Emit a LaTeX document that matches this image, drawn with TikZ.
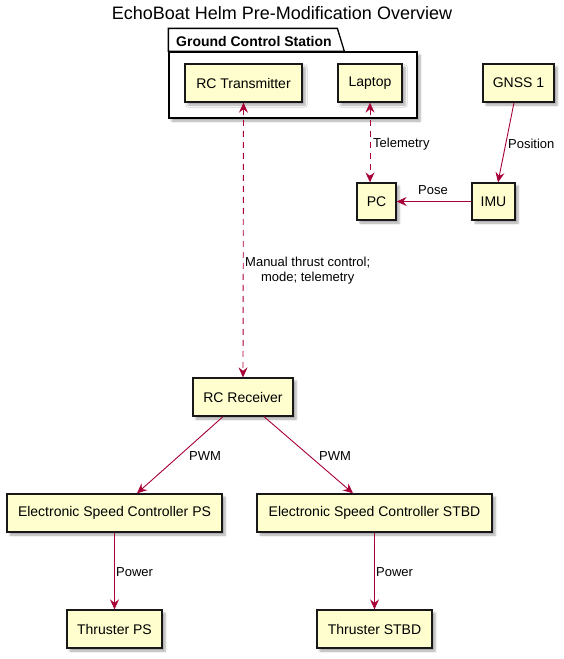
\documentclass[tikz,border=0pt]{standalone}
\usepackage{fontspec}
\setmainfont{Liberation Sans}
\usepackage{tikz}
\usetikzlibrary{arrows.meta,calc,shadows.blur}
\definecolor{umlfill}{HTML}{FEFECE}
\definecolor{umlred}{HTML}{A80036}
\definecolor{umlframe}{HTML}{181818}

\begin{document}
\begin{tikzpicture}[
    x=1pt, y=-1pt,
    comp/.style={draw=umlframe, line width=1.3pt, fill=umlfill, rectangle, minimum height=38pt, inner sep=0pt, font=\fontsize{14}{16}\selectfont,
        blur shadow={shadow xshift=3pt, shadow yshift=-3pt, shadow blur steps=4, shadow opacity=35}},
    pkg/.style={draw=black, line width=1.3pt, fill=white, rectangle, inner sep=0pt,
        blur shadow={shadow xshift=3pt, shadow yshift=-3pt, shadow blur steps=4, shadow opacity=35}},
    arrow/.style={-{Stealth[length=10pt, width=9pt, inset=3.5pt]}, umlred, line width=0.9pt},
    both/.style={{Stealth[length=10pt, width=9pt, inset=3.5pt]}-{Stealth[length=10pt, width=9pt, inset=3.5pt]}, umlred, line width=0.9pt, dash pattern=on 6pt off 5pt},
    lbl/.style={font=\fontsize{13}{15}\selectfont, inner sep=0pt, align=center}
]
\useasboundingbox (0,0) rectangle (564,659);

\node[font=\fontsize{18}{20}\selectfont] (title) at (282,13) {EchoBoat Helm Pre-Modification Overview};

\node[pkg, minimum width=248pt, minimum height=66pt] (gcs) at (293,85) {};
\draw[line width=1.3pt, fill=white] (gcs.north west) -- ++(0,-23) -- ++(169,0) -- ++(7,23) -- cycle;
\node[anchor=west, font=\fontsize{14}{16}\selectfont\bfseries, inner sep=0pt] (gcslabel) at (176,41) {Ground Control Station};

\node[comp, minimum width=117pt] (rctx) at (243.5,83) {RC Transmitter};
\node[comp, minimum width=64pt] (laptop) at (370,83) {Laptop};
\node[comp, minimum width=71pt] (gnss) at (518.5,83) {GNSS 1};
\node[comp, minimum width=39pt, minimum height=37pt] (pc) at (376.5,201.5) {PC};
\node[comp, minimum width=43pt, minimum height=37pt] (imu) at (493.5,201.5) {IMU};
\node[comp, minimum width=100pt] (rcrx) at (243,397) {RC Receiver};
\node[comp, minimum width=215pt] (escps) at (114.5,513) {Electronic Speed Controller PS};
\node[comp, minimum width=235pt] (escstbd) at (374.5,513) {Electronic Speed Controller STBD};
\node[comp, minimum width=95pt] (thrps) at (114.5,629) {Thruster PS};
\node[comp, minimum width=115pt] (thrstbd) at (374.5,629) {Thruster STBD};

\draw[both] (laptop.south) -- (laptop.south |- pc.north);
\node[lbl, anchor=west] (telem) at (373,144) {Telemetry};
\draw[arrow] ([xshift=-4.5pt]gnss.south) -- ([xshift=4.5pt]imu.north);
\node[lbl, anchor=west] (pos) at (508,144) {Position};
\draw[arrow] (imu) -- (pc);
\node[lbl] (pose) at (433,190) {Pose};

\draw[both] (rctx.south) -- (rcrx.north);
\node[lbl, anchor=west] (manual) at (245,271) {Manual thrust control;\\mode; telemetry};

\draw[arrow] ([xshift=-20pt]rcrx.south) -- ([xshift=22.5pt]escps.north);
\node[lbl, anchor=west] (pwmps) at (189,456) {PWM};
\draw[arrow] ([xshift=21pt]rcrx.south) -- ([xshift=-21.5pt]escstbd.north);
\node[lbl, anchor=west] (pwmstbd) at (319,456) {PWM};

\draw[arrow] (escps) -- (thrps);
\node[lbl, anchor=west] (powps) at (116,572) {Power};
\draw[arrow] (escstbd) -- (thrstbd);
\node[lbl, anchor=west] (powstbd) at (376,572) {Power};
\end{tikzpicture}
\end{document}
